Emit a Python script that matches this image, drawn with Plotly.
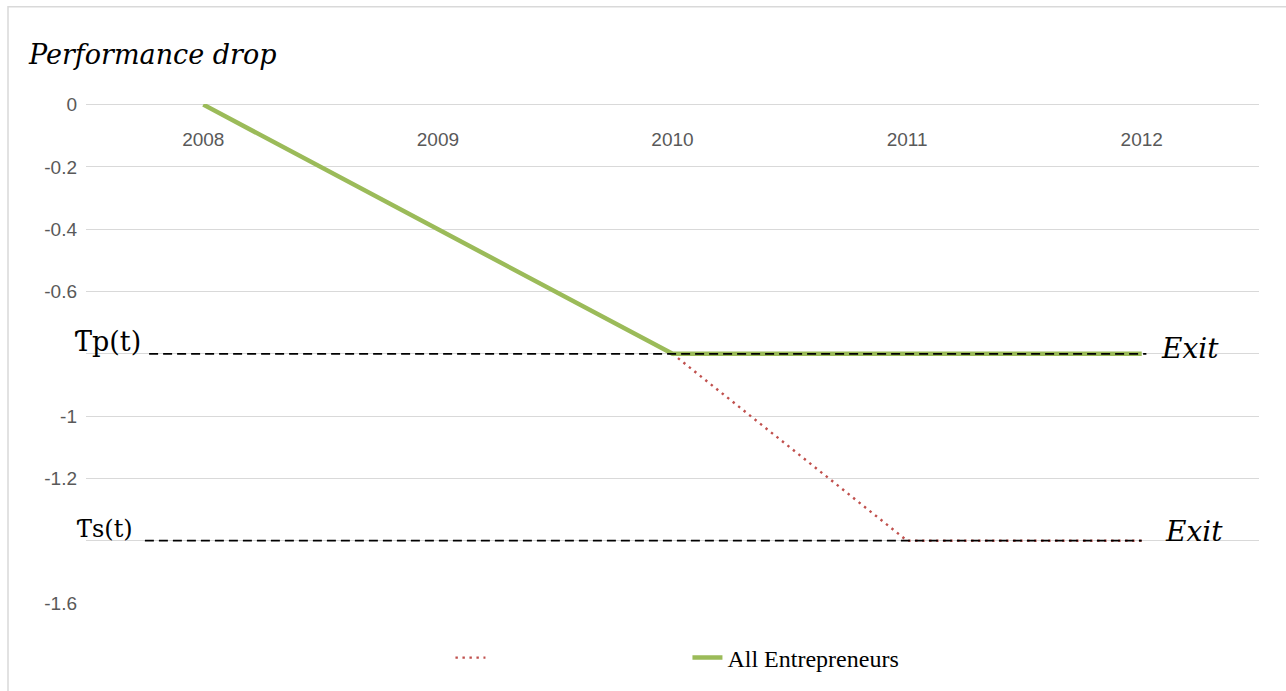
import plotly.graph_objects as go

years = ["2008", "2009", "2010", "2011", "2012"]
all_entrepreneurs = [0, -0.4, -0.8, -0.8, -0.8]
dotted_series = [None, None, -0.8, -1.4, -1.4]
tp_threshold = -0.8
ts_threshold = -1.4
y_ticks = [0, -0.2, -0.4, -0.6, -0.8, -1, -1.2, -1.4, -1.6]
# -0.8 and -1.4 labels are hidden behind the threshold labels in the reference
y_tick_labels = ["0", "-0.2", "-0.4", "-0.6", "", "-1", "-1.2", "", "-1.6"]

xi = list(range(len(years)))

fig = go.Figure()
fig.add_trace(go.Scatter(
    x=xi, y=dotted_series, mode="lines", name=" ",
    line=dict(color="#C0504D", width=2.4, dash="2.4px,4.6px"),
))
fig.add_trace(go.Scatter(
    x=xi, y=all_entrepreneurs, mode="lines", name="All Entrepreneurs",
    line=dict(color="#9BBB59", width=4.5),
))

# threshold dashed reference lines
fig.add_shape(type="line", xref="x", yref="y", x0=-0.231, x1=4.02,
              y0=tp_threshold, y1=tp_threshold,
              line=dict(color="black", width=1.8, dash="9px,5px"), layer="above")
fig.add_shape(type="line", xref="x", yref="y", x0=-0.249, x1=4.0,
              y0=ts_threshold, y1=ts_threshold,
              line=dict(color="black", width=1.8, dash="9px,5px"), layer="above")

serif = "DejaVu Serif, Liberation Serif, serif"
fig.add_annotation(x=-0.256, y=tp_threshold, xref="x", yref="y", text="Ƭp(t)",
                   showarrow=False, xanchor="right", yanchor="bottom", yshift=-5,
                   font=dict(family=serif, size=27, color="black"))
fig.add_annotation(x=-0.29, y=ts_threshold, xref="x", yref="y", text="Ƭs(t)",
                   showarrow=False, xanchor="right", yanchor="bottom", yshift=-4,
                   font=dict(family=serif, size=24, color="black"))
fig.add_annotation(x=4.075, y=tp_threshold, xref="x", yref="y", text="<i>Exit</i>",
                   showarrow=False, xanchor="left", yanchor="middle", yshift=5,
                   font=dict(family=serif, size=28, color="black"))
fig.add_annotation(x=4.09, y=ts_threshold, xref="x", yref="y", text="<i>Exit</i>",
                   showarrow=False, xanchor="left", yanchor="middle", yshift=9,
                   font=dict(family=serif, size=28, color="black"))
fig.add_annotation(x=-0.0515, y=1.1, xref="paper", yref="paper",
                   text="<i>Performance drop</i>", showarrow=False,
                   xanchor="left", yanchor="middle",
                   font=dict(family=serif, size=27, color="black"))

# chart area border
fig.add_shape(type="rect", xref="paper", yref="paper",
              x0=-0.0665, x1=1.03, y0=-0.19, y1=1.195,
              line=dict(color="#D9D9D9", width=1.5), layer="below")

fig.update_layout(
    width=1286, height=691,
    margin=dict(l=86, r=27, t=104, b=87),
    plot_bgcolor="white", paper_bgcolor="white",
    showlegend=True,
    legend=dict(orientation="h", x=0.3107, y=-0.108, xanchor="left", yanchor="middle",
                font=dict(family="Liberation Serif, serif", size=24, color="black"),
                entrywidth=192, entrywidthmode="pixels", traceorder="normal"),
    xaxis=dict(
        range=[-0.5, 4.5], tickvals=xi, ticktext=years,
        anchor="free", position=1, side="bottom",
        ticks="", showgrid=False, zeroline=False,
        showline=False, ticklabelstandoff=22,
        tickfont=dict(family="Liberation Sans, Arial, sans-serif", size=19, color="#595959"),
    ),
    yaxis=dict(
        range=[-1.6, 0.002], tickvals=y_ticks, ticktext=y_tick_labels,
        showgrid=True, gridcolor="#D9D9D9", gridwidth=1,
        zeroline=True, zerolinecolor="#D9D9D9", zerolinewidth=1,
        showline=False, ticks="", ticklabelstandoff=8,
        tickfont=dict(family="Liberation Sans, Arial, sans-serif", size=19, color="#595959"),
    ),
)
fig.write_html("out.html", config={"displayModeBar": False},
               post_script="document.body.style.margin='0';")
